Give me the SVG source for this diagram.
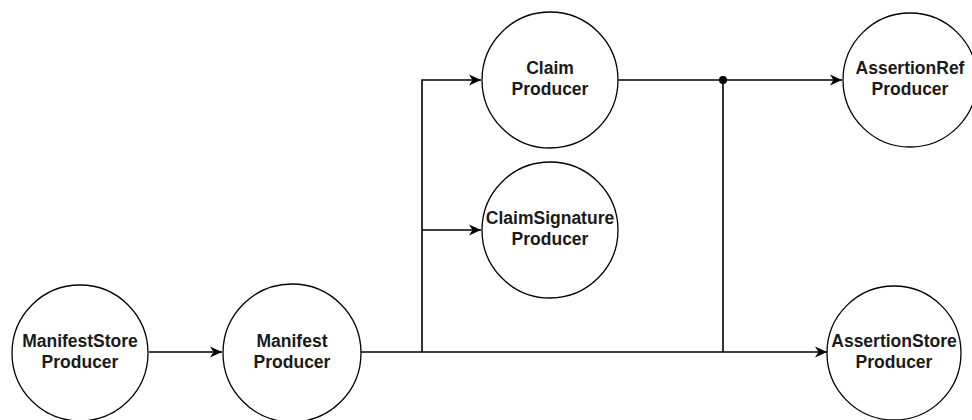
<svg xmlns="http://www.w3.org/2000/svg" width="972" height="420" viewBox="0 0 972 420">
<defs>
<style>
.node{fill:#fff;stroke:#000;stroke-width:1.3}
.lbl{font-family:"Liberation Sans",Arial,sans-serif;font-weight:bold;font-size:17.5px;fill:#1a1a1a;text-anchor:middle}
.edge{fill:none;stroke:#000;stroke-width:1.6}
</style>
<marker id="arr" viewBox="0 0 12 12" refX="12" refY="6" markerWidth="12" markerHeight="12" markerUnits="userSpaceOnUse" orient="auto">
<path d="M0,0.5 L12,6 L0,11.5 L3.5,6 Z" fill="#000"/>
</marker>
</defs>
<rect width="972" height="420" fill="#fff"/>
<g id="connectors">
<path class="edge" d="M149,352 L222,352" marker-end="url(#arr)"/>
<path class="edge" d="M361,352 L827,352" marker-end="url(#arr)"/>
<path class="edge" d="M422,352 L422,80 L481,80" marker-end="url(#arr)"/>
<path class="edge" d="M422,230 L481,230" marker-end="url(#arr)"/>
<path class="edge" d="M618,80 L842,80" marker-end="url(#arr)"/>
<path class="edge" d="M723,80 L723,352"/>
<circle cx="723" cy="80" r="4" fill="#000"/>
</g>
<g id="manifeststore">
<circle class="node" cx="80" cy="353" r="68"/>
<text class="lbl" x="80" y="347">ManifestStore</text>
<text class="lbl" x="80" y="368">Producer</text>
</g>
<g id="manifest">
<circle class="node" cx="292" cy="353" r="69"/>
<text class="lbl" x="292" y="347">Manifest</text>
<text class="lbl" x="292" y="368">Producer</text>
</g>
<g id="claim">
<circle class="node" cx="550" cy="80" r="68"/>
<text class="lbl" x="550" y="74">Claim</text>
<text class="lbl" x="550" y="95">Producer</text>
</g>
<g id="claimsignature">
<circle class="node" cx="550" cy="230" r="68"/>
<text class="lbl" x="550" y="224">ClaimSignature</text>
<text class="lbl" x="550" y="245">Producer</text>
</g>
<g id="assertionref">
<circle class="node" cx="910" cy="80" r="67"/>
<text class="lbl" x="910" y="74">AssertionRef</text>
<text class="lbl" x="910" y="95">Producer</text>
</g>
<g id="assertionstore">
<circle class="node" cx="894" cy="353" r="67"/>
<text class="lbl" x="894" y="347">AssertionStore</text>
<text class="lbl" x="894" y="368">Producer</text>
</g>
</svg>
